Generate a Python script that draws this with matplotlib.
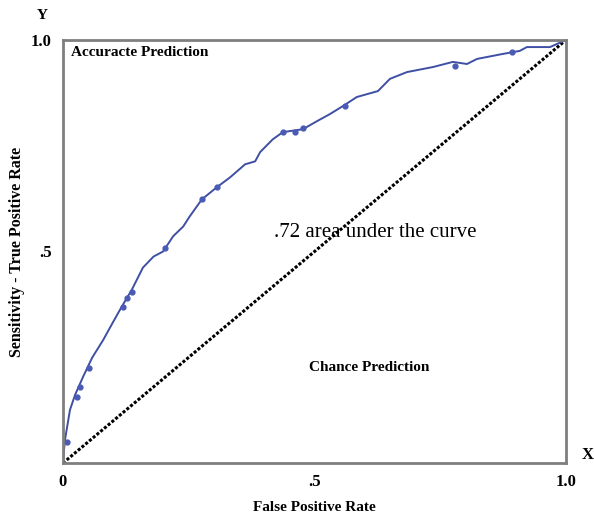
import matplotlib.pyplot as plt

plt.rcParams['font.family'] = ['Liberation Serif', 'DejaVu Serif']

# ROC curve traced point by point (false positive rate, true positive rate)
fpr = [0.0, 0.002, 0.004, 0.014, 0.024, 0.040, 0.058, 0.080, 0.099, 0.117, 0.137,
       0.159, 0.180, 0.199, 0.219, 0.239, 0.252, 0.276, 0.306, 0.332, 0.362, 0.382,
       0.392, 0.417, 0.437, 0.477, 0.505, 0.531, 0.557, 0.584, 0.626, 0.650, 0.684,
       0.736, 0.775, 0.803, 0.823, 0.875, 0.908, 0.922, 0.968, 1.0]
tpr = [0.0, 0.030, 0.055, 0.126, 0.161, 0.204, 0.249, 0.291, 0.332, 0.370, 0.410,
       0.462, 0.488, 0.500, 0.536, 0.559, 0.583, 0.623, 0.652, 0.675, 0.706, 0.713,
       0.735, 0.765, 0.782, 0.789, 0.808, 0.825, 0.844, 0.865, 0.879, 0.908, 0.924,
       0.936, 0.948, 0.943, 0.955, 0.967, 0.974, 0.983, 0.983, 1.0]

# observed cut points on the curve
pts_x = [0.008, 0.028, 0.034, 0.052, 0.119, 0.127, 0.137, 0.203, 0.276, 0.306,
         0.437, 0.461, 0.477, 0.561, 0.779, 0.893]
pts_y = [0.050, 0.156, 0.180, 0.225, 0.370, 0.389, 0.405, 0.509, 0.623, 0.652,
         0.782, 0.782, 0.791, 0.844, 0.938, 0.971]

xticks = [0, 0.5, 1.0]
xtick_labels = ['0', '.5', '1.0']
yticks = [0.5, 1.0]
ytick_labels = ['.5', '1.0']

fig = plt.figure(figsize=(5.94, 5.18), dpi=100)
ax = fig.add_axes([0.106, 0.106, 0.847, 0.817])

ax.plot([0, 1], [0, 1], color='black', linestyle=(0, (1, 0.6)), linewidth=2.2)
ax.plot(fpr, tpr, color='#3f4fa3', linewidth=1.4)
ax.plot(pts_x, pts_y, 'o', color='#4a5bb5', markersize=3.5, linestyle='none')

ax.set_xlim(0, 1)
ax.set_ylim(0, 1)
ax.set_xticks(xticks)
ax.set_xticklabels(xtick_labels, fontweight='bold', fontsize=12)
ax.set_yticks(yticks)
ax.set_yticklabels(ytick_labels, fontweight='bold', fontsize=12)
ax.tick_params(length=0, pad=8)

for s in ax.spines.values():
    s.set_color('#7f7f7f')
    s.set_linewidth(2)

ax.set_xlabel('False Positive Rate', fontweight='bold', fontsize=11, labelpad=8)
ax.set_ylabel('Sensitivity - True Positive Rate', fontweight='bold', fontsize=11.5, labelpad=4)

ax.text(0.015, 0.985, 'Accuracte Prediction', fontweight='bold', fontsize=11,
        ha='left', va='top', transform=ax.transAxes)
ax.text(0.42, 0.545, '.72 area under the curve', fontsize=15, ha='left', va='center')
ax.text(0.49, 0.225, 'Chance Prediction', fontweight='bold', fontsize=11,
        ha='left', va='center')

fig.text(0.072, 0.97, 'Y', fontweight='bold', fontsize=11, ha='center', va='center')
fig.text(0.99, 0.122, 'X', fontweight='bold', fontsize=12, ha='center', va='center')

fig.savefig('out.png', dpi=100)
